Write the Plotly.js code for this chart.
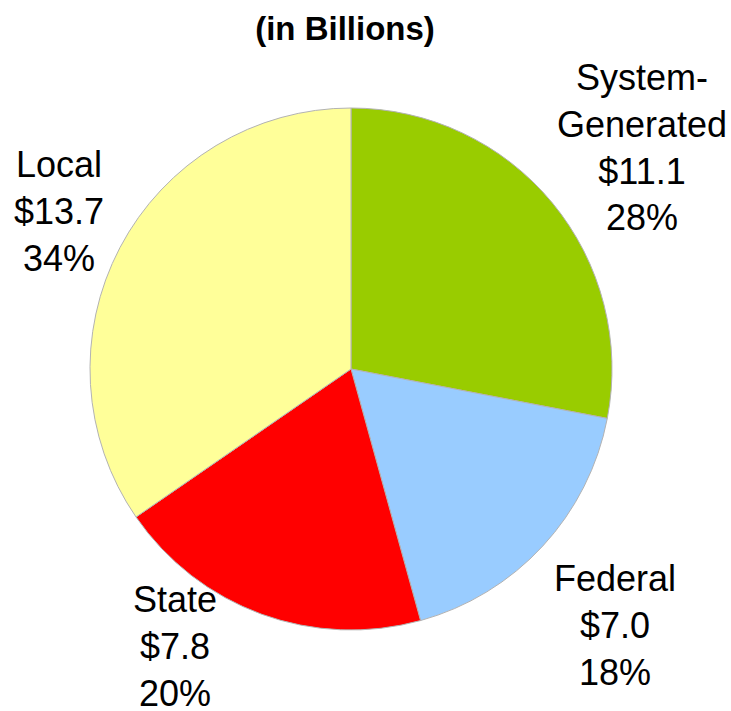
<!DOCTYPE html>
<html>
<head>
<meta charset="utf-8">
<script src="https://cdn.plot.ly/plotly-3.0.1.min.js"></script>
<style>html,body{margin:0;padding:0;background:#fff;}#chart{width:731px;height:711px;}</style>
</head>
<body>
<div id="chart"></div>
<script>
// Data
const categories = ["System-<br>Generated", "Federal", "State", "Local"];
const valuesBillions = [11.1, 7.0, 7.8, 13.7];
const percentLabels = [28, 18, 20, 34];
const sliceColors = ["#99CC00", "#99CCFF", "#FF0000", "#FFFF99"];

// Label placement (px centres within the 731x711 canvas)
const labelPos = [[642, 147], [615, 625], [175, 646], [59, 211]];

const W = 731, H = 711;
const fontFamily = '"Liberation Sans", Arial, Helvetica, sans-serif';

const annotations = categories.map((c, i) => ({
  text: c + "<br>$" + valuesBillions[i].toFixed(1) + "<br>" + percentLabels[i] + "%",
  xref: "paper", yref: "paper",
  x: labelPos[i][0] / W, y: 1 - labelPos[i][1] / H,
  xanchor: "center", yanchor: "middle",
  showarrow: false, align: "center",
  font: {family: fontFamily, size: 36, color: "#000"}
}));

const trace = {
  type: "pie",
  labels: categories,
  values: valuesBillions,
  sort: false,
  direction: "clockwise",
  rotation: 0,
  textinfo: "none",
  hoverinfo: "none",
  marker: {colors: sliceColors, line: {color: "#B3B3B3", width: 1}},
  domain: {x: [90 / W, 612 / W], y: [1 - 630 / H, 1 - 108 / H]}
};

const layout = {
  width: W, height: H,
  margin: {l: 0, r: 0, t: 0, b: 0},
  paper_bgcolor: "#fff",
  showlegend: false,
  title: {
    text: "<b>(in Billions)</b>",
    font: {family: fontFamily, size: 33, color: "#000"},
    x: 345 / W, xanchor: "center",
    y: 1 - 28 / H, yanchor: "middle", yref: "container"
  },
  annotations: annotations
};

Plotly.newPlot("chart", [trace], layout, {displayModeBar: false, staticPlot: true});
</script>
</body>
</html>
